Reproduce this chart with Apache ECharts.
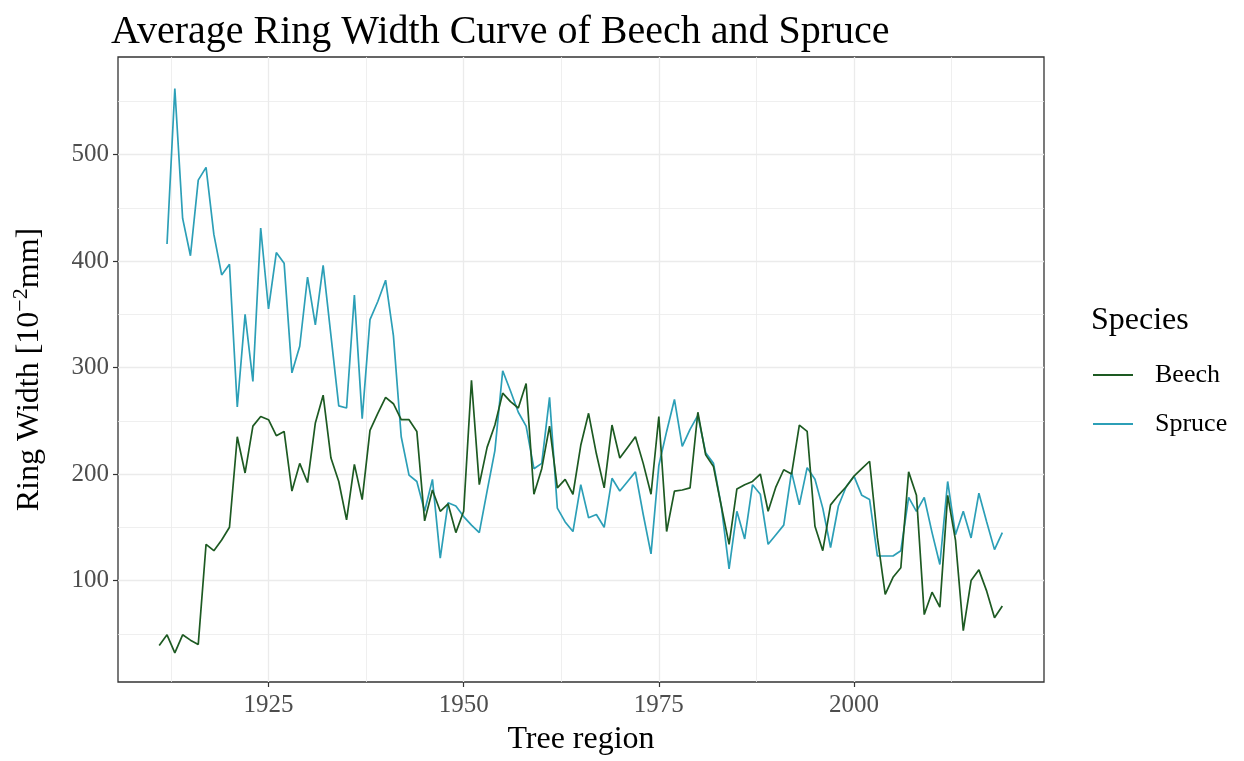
<!DOCTYPE html>
<html>
<head>
<meta charset="utf-8">
<title>Average Ring Width Curve of Beech and Spruce</title>
<script src="https://cdn.jsdelivr.net/npm/echarts@6/dist/echarts.min.js"></script>
<style>
  html, body { margin: 0; padding: 0; background: #ffffff; }
  #chart { width: 1244px; height: 761px; }
</style>
</head>
<body>
<div id="chart"></div>
<script>
// Mean annual ring width, in 1/100 mm
const beechFirstYear = 1911;
const beechValues = [
  39, 49, 32, 49, 44, 40, 134, 128, 138, 150,
  235, 201, 245, 254, 251, 236, 240, 184, 210, 192,
  248, 274, 215, 193, 157, 209, 176, 241, 257, 272,
  266, 251, 251, 240, 156, 185, 165, 172, 145, 165,
  288, 190, 225, 246, 276, 268, 262, 285, 181, 205,
  245, 187, 195, 181, 227, 257, 219, 187, 246, 215,
  225, 235, 210, 181, 254, 146, 184, 185, 187, 258,
  218, 207, 170, 134, 186, 190, 193, 200, 165, 188,
  204, 200, 246, 240, 151, 128, 171, 180, 188, 198,
  205, 212, 140, 87, 103, 112, 202, 180, 68, 89,
  75, 180, 138, 53, 100, 110, 90, 65, 76
];

const spruceFirstYear = 1912;
const spruceValues = [
  416, 562, 440, 405, 476, 488, 425, 387, 397,
  263, 350, 287, 431, 355, 408, 398, 295, 320, 385,
  340, 396, 330, 264, 262, 368, 252, 345, 362, 382,
  330, 235, 199, 193, 165, 195, 121, 173, 170, 160,
  152, 145, 184, 222, 297, 278, 258, 245, 205, 210,
  272, 168, 155, 146, 190, 159, 162, 150, 196, 184,
  193, 202, 162, 125, 208, 240, 270, 226, 242, 255,
  220, 210, 170, 111, 165, 139, 190, 181, 134, 143,
  152, 202, 171, 206, 195, 168, 131, 170, 188, 198,
  180, 176, 123, 123, 123, 128, 178, 165, 178, 145,
  115, 193, 143, 165, 140, 182, 155, 129, 145
];

// Major (labelled) and minor grid positions
const xTickLabels = [1925, 1950, 1975, 2000];
const xMinorGrid = [1912.5, 1937.5, 1962.5, 1987.5, 2012.5];
const yTickLabels = [100, 200, 300, 400, 500];
const yMinorGrid = [50, 150, 250, 350, 450, 550];

const speciesNames = ['Beech', 'Spruce'];
const speciesColors = ['#1d5a22', '#2c9fb7'];

const xRange = [1905.72, 2024.34];
const yRange = [4.7, 591.6];

function toPairs(firstYear, values) {
  return values.map((v, i) => [firstYear + i, v]);
}

const serif = 'Liberation Serif, Times New Roman, serif';
const gridColor = '#ebebeb';

// Axis that only contributes faint minor grid lines
function minorAxis(range, values, extra) {
  return Object.assign({
    type: 'value',
    min: range[0],
    max: range[1],
    axisLine: { show: false },
    axisTick: { show: false, customValues: values },
    axisLabel: { show: false, customValues: values },
    splitLine: { show: true, lineStyle: { color: gridColor, width: 0.8 } },
    silent: true
  }, extra);
}

const chart = echarts.init(document.getElementById('chart'), null, { renderer: 'canvas' });

chart.setOption({
  animation: false,
  backgroundColor: '#ffffff',
  textStyle: { fontFamily: serif },
  title: [
    {
      text: 'Average Ring Width Curve of Beech and Spruce',
      left: 111,
      top: 12,
      padding: 0,
      textStyle: { fontFamily: serif, fontSize: 40, fontWeight: 'normal', color: '#000000' }
    },
    {
      text: 'Species',
      left: 1091,
      top: 305,
      padding: 0,
      textStyle: { fontFamily: serif, fontSize: 32, fontWeight: 'normal', color: '#000000' }
    }
  ],
  legend: {
    orient: 'vertical',
    left: 1093,
    top: 360,
    padding: 0,
    itemWidth: 40,
    itemHeight: 2,
    itemGap: 19,
    icon: 'rect',
    data: speciesNames,
    textStyle: {
      fontFamily: serif,
      fontSize: 26,
      lineHeight: 30,
      color: '#000000',
      padding: [0, 0, 0, 17]
    }
  },
  grid: {
    left: 118,
    right: 200,
    top: 57,
    bottom: 76,
    show: true,
    borderColor: '#333333',
    borderWidth: 1.3,
    backgroundColor: '#ffffff',
    containLabel: false
  },
  xAxis: [
    {
      type: 'value',
      min: xRange[0],
      max: xRange[1],
      name: 'Tree region',
      nameLocation: 'middle',
      nameGap: 42,
      nameTextStyle: { fontFamily: serif, fontSize: 32, color: '#000000' },
      axisLine: { show: false },
      axisTick: {
        show: true,
        length: 5,
        customValues: xTickLabels,
        lineStyle: { color: '#333333', width: 1.2 }
      },
      axisLabel: {
        customValues: xTickLabels,
        formatter: (v) => String(v),
        margin: 11,
        fontFamily: serif,
        fontSize: 25,
        color: '#4d4d4d'
      },
      splitLine: { show: true, lineStyle: { color: gridColor, width: 1.3 } }
    },
    minorAxis(xRange, xMinorGrid, { position: 'top' })
  ],
  yAxis: [
    {
      type: 'value',
      min: yRange[0],
      max: yRange[1],
      name: '{t|Ring Width [10}{s|−2}{t|mm]}',
      nameLocation: 'middle',
      nameRotate: 90,
      nameGap: 72,
      nameTextStyle: {
        fontFamily: serif,
        fontSize: 32,
        color: '#000000',
        rich: {
          t: { fontFamily: serif, fontSize: 32, color: '#000000', lineHeight: 36, verticalAlign: 'bottom' },
          s: { fontFamily: serif, fontSize: 22, color: '#000000', lineHeight: 36, verticalAlign: 'top' }
        }
      },
      axisLine: { show: false },
      axisTick: {
        show: true,
        length: 5,
        customValues: yTickLabels,
        lineStyle: { color: '#333333', width: 1.2 }
      },
      axisLabel: {
        customValues: yTickLabels,
        formatter: (v) => String(v),
        margin: 9,
        fontFamily: serif,
        fontSize: 25,
        color: '#4d4d4d'
      },
      splitLine: { show: true, lineStyle: { color: gridColor, width: 1.3 } }
    },
    minorAxis(yRange, yMinorGrid, { position: 'right' })
  ],
  series: [
    {
      name: speciesNames[0],
      type: 'line',
      data: toPairs(beechFirstYear, beechValues),
      symbol: 'none',
      showSymbol: false,
      color: speciesColors[0],
      lineStyle: { color: speciesColors[0], width: 1.7 },
      z: 3
    },
    {
      name: speciesNames[1],
      type: 'line',
      data: toPairs(spruceFirstYear, spruceValues),
      symbol: 'none',
      showSymbol: false,
      color: speciesColors[1],
      lineStyle: { color: speciesColors[1], width: 1.7 },
      z: 2
    }
  ]
});
</script>
</body>
</html>
